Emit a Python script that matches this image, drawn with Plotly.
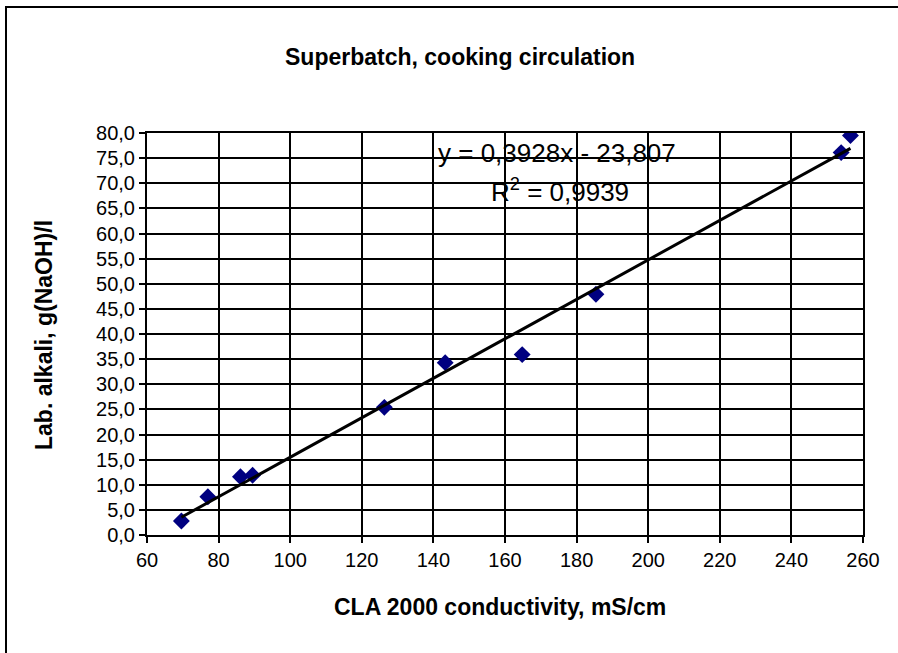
import plotly.graph_objects as go

conductivity = [69.6, 77.0, 86.1, 89.5, 126.3, 143.3, 164.8, 185.4, 253.9, 256.5]
lab_alkali = [2.8, 7.6, 11.6, 11.9, 25.4, 34.3, 35.9, 47.9, 76.1, 79.5]
slope = 0.3928
intercept = -23.807
eq_text = "y = 0,3928x - 23,807"
r2_text = "R<sup>2</sup> = 0,9939"
title_text = "<b>Superbatch, cooking circulation</b>"
x_title = "<b>CLA 2000 conductivity, mS/cm</b>"
y_title = "<b>Lab. alkali, g(NaOH)/l</b>"

W, H = 898, 653
L, R, T, B = 147, 35, 133, 118
pw, ph = W - L - R, H - T - B


def px(xp):
    return (xp - L) / pw


def py(yp):
    return (H - B - yp) / ph


x_line = [min(conductivity), max(conductivity)]
y_line = [slope * v + intercept for v in x_line]

fig = go.Figure()
fig.add_trace(go.Scatter(x=conductivity, y=lab_alkali, mode="markers",
                         marker=dict(symbol="diamond", size=13, color="#000080"),
                         showlegend=False))
fig.add_trace(go.Scatter(x=x_line, y=y_line, mode="lines",
                         line=dict(color="black", width=3), showlegend=False))

font = "Liberation Sans, Arial, sans-serif"
axis_common = dict(showgrid=True, gridcolor="black", gridwidth=2,
                   showline=True, linecolor="black", linewidth=2, mirror=True,
                   ticks="outside", ticklen=6, tickcolor="black", tickwidth=2,
                   zeroline=False, tickfont=dict(size=20))
fig.update_layout(
    width=W, height=H,
    margin=dict(l=L, r=R, t=T, b=B),
    paper_bgcolor="white", plot_bgcolor="white",
    separators=", ",
    font=dict(family=font, color="black", size=20),
    xaxis=dict(range=[60, 260], tickvals=list(range(60, 261, 20)), **axis_common),
    yaxis=dict(range=[0, 80], tickvals=list(range(0, 81, 5)), tickformat=".1f", **axis_common),
    annotations=[
        dict(text=title_text, x=px(460), y=py(57), xref="paper", yref="paper",
             showarrow=False, font=dict(size=23), xanchor="center", yanchor="middle"),
        dict(text=x_title, x=px(500), y=py(607), xref="paper", yref="paper",
             showarrow=False, font=dict(size=23), xanchor="center", yanchor="middle"),
        dict(text=y_title, x=px(44), y=py(335), xref="paper", yref="paper", textangle=-90,
             showarrow=False, font=dict(size=23), xanchor="center", yanchor="middle"),
        dict(text=eq_text, x=px(557), y=py(153), xref="paper", yref="paper",
             showarrow=False, font=dict(size=26), xanchor="center", yanchor="middle"),
        dict(text=r2_text, x=px(560), y=py(190), xref="paper", yref="paper",
             showarrow=False, font=dict(size=26), xanchor="center", yanchor="middle"),
    ],
    shapes=[dict(type="rect", xref="paper", yref="paper",
                 x0=px(6), x1=px(W + 10), y0=py(H + 10), y1=py(7),
                 line=dict(color="black", width=2), layer="below")],
)
fig.write_html("out.html", config={"displayModeBar": False},
               post_script="document.body.style.margin='0px';document.body.style.overflow='hidden';")
